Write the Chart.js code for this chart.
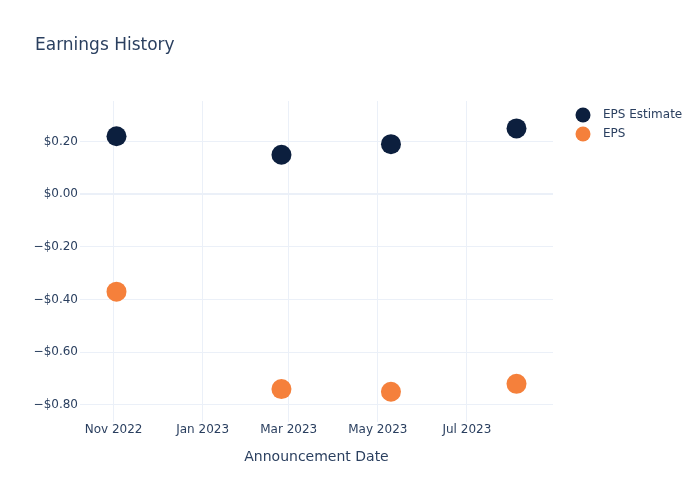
<!DOCTYPE html>
<html>
<head>
<meta charset="utf-8">
<script src="https://cdn.jsdelivr.net/npm/chart.js@4/dist/chart.umd.min.js"></script>
<style>
  html, body { margin: 0; padding: 0; background: #ffffff; }
  #wrap { width: 700px; height: 500px; position: relative; }
</style>
</head>
<body>
<div id="wrap"><canvas id="c" width="700" height="500"></canvas></div>
<script>
// ---- data ----
const chartTitle = "Earnings History";
const xAxisTitle = "Announcement Date";
const seriesNames = ["EPS Estimate", "EPS"];
const seriesColors = ["#0c1f3e", "#f5803b"];
const announcementDates = ["2022-11-03", "2023-02-24", "2023-05-10", "2023-08-04"];
const epsEstimate = [0.22, 0.15, 0.19, 0.25];
const epsActual = [-0.37, -0.74, -0.75, -0.72];
const xTickDates = ["2022-11-01", "2023-01-01", "2023-03-01", "2023-05-01", "2023-07-01"];
const xTickLabels = ["Nov 2022", "Jan 2023", "Mar 2023", "May 2023", "Jul 2023"];
const yTickValues = [0.2, 0, -0.2, -0.4, -0.6, -0.8];
const yTickLabels = ["$0.20", "$0.00", "\u2212$0.20", "\u2212$0.40", "\u2212$0.60", "\u2212$0.80"];
const xRange = ["2022-10-09", "2023-08-29"];
const yRange = [-0.865, 0.354];

const toTs = s => Date.parse(s + "T00:00:00Z");
const pts = vals => announcementDates.map((d, i) => ({ x: toTs(d), y: vals[i] }));

const FONT = "'DejaVu Sans', Verdana, sans-serif";
const TEXT = "#2a3f5f";
const GRID = "#ebf0f8";

const decorPlugin = {
  id: "decor",
  afterDraw(chart) {
    const ctx = chart.ctx;
    ctx.save();
    ctx.fillStyle = TEXT;
    ctx.font = "17px " + FONT;
    ctx.textBaseline = "middle";
    ctx.textAlign = "left";
    ctx.fillText(chartTitle, 35, 46);
    ctx.font = "12px " + FONT;
    seriesNames.forEach((name, i) => {
      const cy = 115 + i * 19;
      ctx.beginPath();
      ctx.arc(583, cy, 7.5, 0, Math.PI * 2);
      ctx.fillStyle = seriesColors[i];
      ctx.fill();
      ctx.fillStyle = TEXT;
      ctx.fillText(name, 603, cy);
    });
    ctx.restore();
  }
};

new Chart(document.getElementById("c"), {
  type: "scatter",
  data: {
    datasets: [
      { label: seriesNames[0], data: pts(epsEstimate), backgroundColor: seriesColors[0], borderColor: seriesColors[0], pointRadius: 10, pointHoverRadius: 10, borderWidth: 0 },
      { label: seriesNames[1], data: pts(epsActual), backgroundColor: seriesColors[1], borderColor: seriesColors[1], pointRadius: 10, pointHoverRadius: 10, borderWidth: 0 }
    ]
  },
  options: {
    responsive: false,
    animation: false,
    layout: { padding: { left: 0, right: 147, top: 101, bottom: 0 } },
    plugins: {
      legend: { display: false },
      title: { display: false },
      tooltip: { enabled: false }
    },
    scales: {
      x: {
        type: "linear",
        min: toTs(xRange[0]),
        max: toTs(xRange[1]),
        afterBuildTicks: s => { s.ticks = xTickDates.map(d => ({ value: toTs(d) })); },
        afterFit: s => { s.height = 78; },
        ticks: {
          autoSkip: false, maxRotation: 0, padding: 1,
          color: TEXT, font: { family: FONT, size: 12 },
          callback: (v, i) => xTickLabels[i]
        },
        grid: { color: GRID, lineWidth: 1, drawTicks: false },
        border: { display: false },
        title: {
          display: true, text: xAxisTitle, color: TEXT,
          font: { family: FONT, size: 14 }, padding: { top: 0, bottom: 34 }
        }
      },
      y: {
        min: yRange[0],
        max: yRange[1],
        afterBuildTicks: s => { s.ticks = yTickValues.map(v => ({ value: v })); },
        afterFit: s => { s.width = 80; },
        ticks: {
          autoSkip: false, padding: 2,
          color: TEXT, font: { family: FONT, size: 12 },
          callback: (v, i) => yTickLabels[i]
        },
        grid: {
          drawTicks: false,
          color: c => GRID,
          lineWidth: c => (c.tick && c.tick.value === 0 ? 2 : 1)
        },
        border: { display: false }
      }
    }
  },
  plugins: [decorPlugin]
});
</script>
</body>
</html>
